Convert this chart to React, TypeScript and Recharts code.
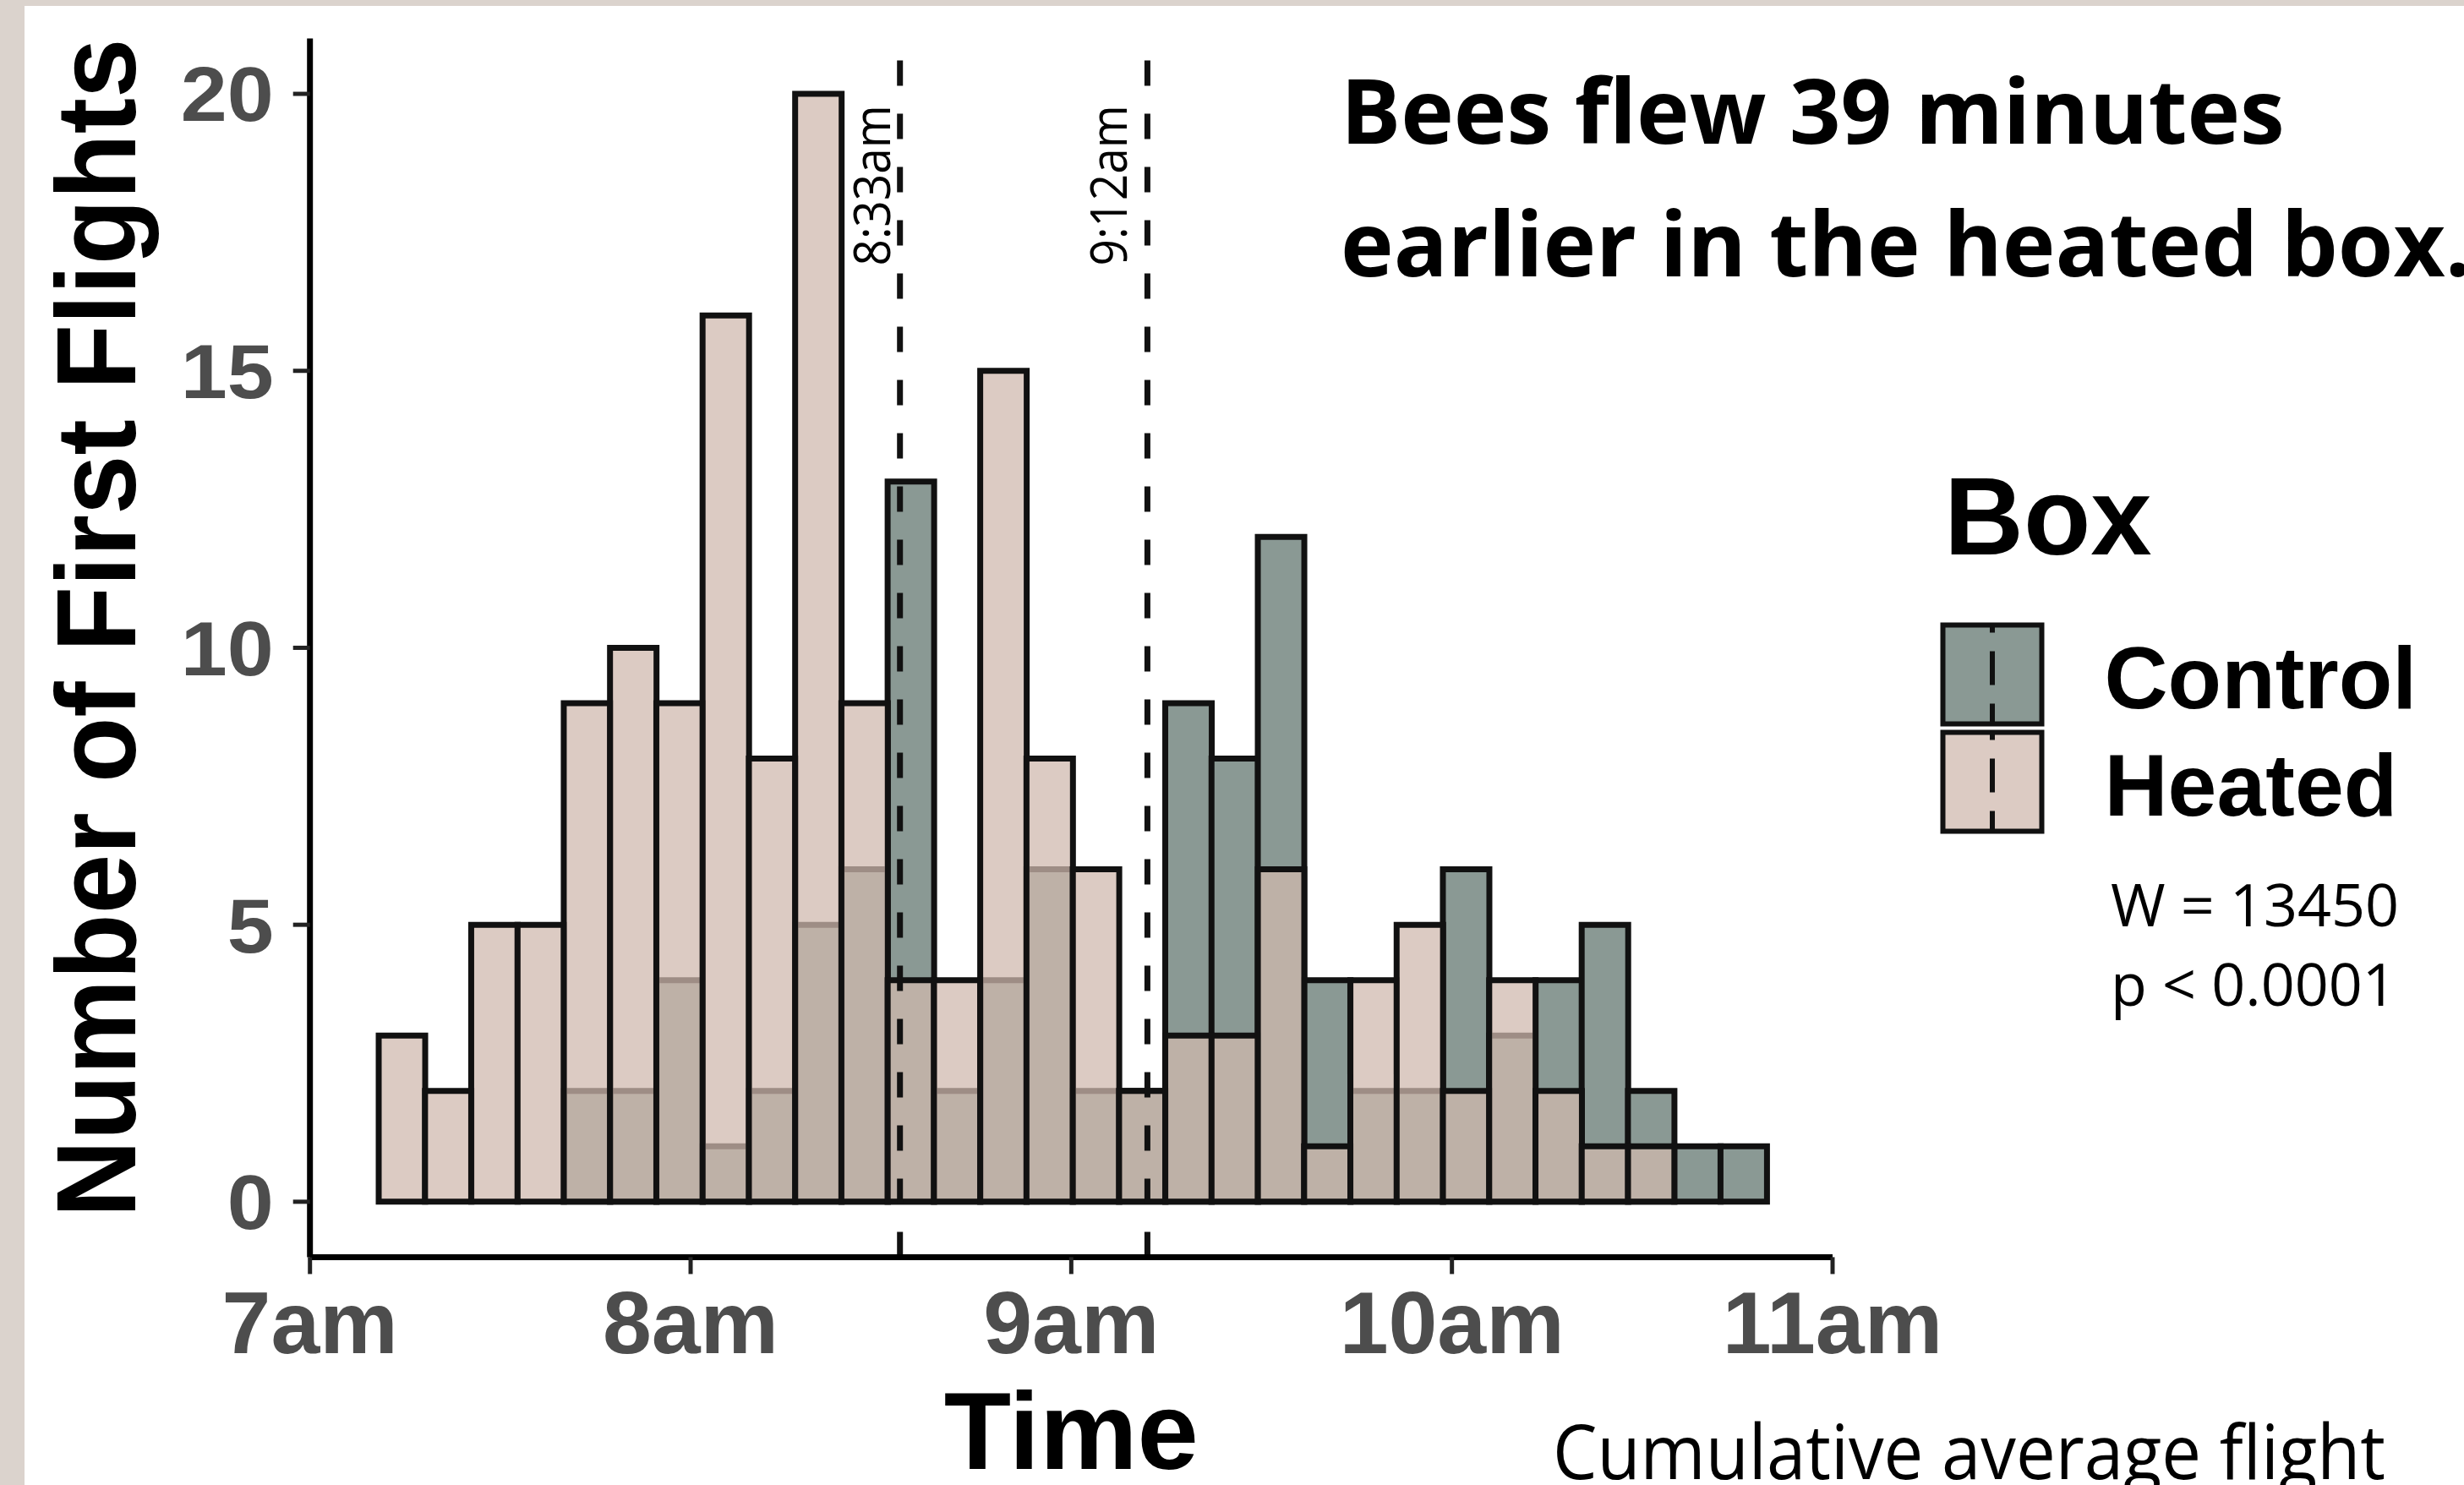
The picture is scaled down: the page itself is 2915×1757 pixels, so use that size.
import React from 'react';
import { ComposedChart, Bar, XAxis, YAxis, ReferenceLine, Legend } from 'recharts';

// ---- data (histogram bins, minutes after 7am) ----
const binCenters = [
  14.48, 21.77, 29.06, 36.36, 43.65, 50.94, 58.24, 65.53, 72.82, 80.12,
  87.41, 94.7, 101.99, 109.29, 116.58, 123.88, 131.17, 138.46, 145.75, 153.05,
  160.34, 167.63, 174.93, 182.22, 189.51, 196.81, 204.1, 211.39, 218.68, 225.98,
];
const heatedCounts = [3, 2, 5, 5, 9, 10, 9, 16, 8, 20, 9, 4, 4, 15, 8, 6, 2, 3, 3, 6, 1, 4, 5, 2, 4, 2, 1, 1, 0, 0];
const controlCounts = [0, 0, 0, 0, 2, 2, 4, 1, 2, 5, 6, 13, 2, 4, 6, 2, 2, 9, 8, 12, 4, 2, 2, 6, 3, 4, 5, 2, 1, 1];
const xTicks = [0, 60, 120, 180, 240];
const xTickLabels = ['7am', '8am', '9am', '10am', '11am'];
const yTicks = [0, 5, 10, 15, 20];
const meanTimes = [93, 132];
const meanLabels = ['8:33am', '9:12am'];
const legendOrder = ['Control', 'Heated'];

const data = binCenters.map((t, i) => ({ t, Heated: heatedCounts[i], Control: controlCounts[i] }));

// ---- styles ----
const W = 2915;
const H = 1757;
const ARIAL = '"Liberation Sans", Arial, sans-serif';
const OPEN = '"Open Sans", sans-serif';
const CONTROL_FILL = '#8a9994';
const HEATED_FILL = '#d0b9ae';
const HEATED_OPACITY = 0.74;
const OUTLINE = '#111111';
const BAR_STROKE = 7;
const seriesStyle: Record<string, { fill: string; opacity: number }> = {
  Control: { fill: CONTROL_FILL, opacity: 1 },
  Heated: { fill: HEATED_FILL, opacity: HEATED_OPACITY },
};
const meanLabelGap: Record<string, number> = { '8:33am': 12, '9:12am': 24 };

const YTick = (props: any) => {
  const { x, y, payload } = props;
  const s = String(payload.value);
  return (
    <text
      x={x}
      y={y}
      dy="0.36em"
      textAnchor="end"
      fontFamily={ARIAL}
      fontWeight="bold"
      fontSize={90}
      textLength={s.length * 55}
      lengthAdjust="spacingAndGlyphs"
      fill="#4d4d4d"
    >
      {s}
    </text>
  );
};

const XTick = (props: any) => {
  const { x, y, payload } = props;
  return (
    <text x={x} y={y} dy="0.71em" textAnchor="middle" fontFamily={ARIAL} fontWeight="bold" fontSize={104} fill="#4d4d4d">
      {xTickLabels[xTicks.indexOf(payload.value)]}
    </text>
  );
};

const MeanLabel = (props: any) => {
  const { viewBox, value } = props;
  const bx = viewBox.x - (meanLabelGap[value] ?? 14);
  const by = viewBox.y + 269;
  return (
    <text
      transform={`translate(${bx},${by}) rotate(-90)`}
      fontFamily={OPEN}
      fontSize={60}
      textLength={190}
      lengthAdjust="spacingAndGlyphs"
      fill="#000"
    >
      {value}
    </text>
  );
};

const YTitle = () => (
  <text
    transform="translate(160,743) rotate(-90)"
    textAnchor="middle"
    fontFamily={ARIAL}
    fontWeight="bold"
    fontSize={133}
    textLength={1395}
    lengthAdjust="spacingAndGlyphs"
    fill="#000"
  >
    Number of First Flights
  </text>
);

const XTitle = (props: any) => {
  const { viewBox } = props;
  const cx = viewBox.x + viewBox.width / 2;
  return (
    <text x={cx} y={1738} textAnchor="middle" fontFamily={ARIAL} fontWeight="bold" fontSize={130} fill="#000">
      Time
    </text>
  );
};

const LegendContent = (props: any) => {
  const payload: any[] = props.payload || [];
  const items = legendOrder
    .map((name) => payload.find((p) => p.value === name || p.dataKey === name))
    .filter(Boolean);
  return (
    <svg width={620} height={470} style={{ display: 'block' }}>
      <text x={10} y={116} fontFamily={ARIAL} fontWeight="bold" fontSize={130} fill="#000">
        Box
      </text>
      {items.map((it: any, i: number) => {
        const name = it.value;
        const st = seriesStyle[name];
        return (
          <g key={name} transform={`translate(8.5,${199.5 + i * 127})`}>
            <rect x={0} y={0} width={117} height={117} fill={st.fill} fillOpacity={st.opacity} stroke={OUTLINE} strokeWidth={6} />
            <line x1={58.5} x2={58.5} y1={0} y2={117} stroke={OUTLINE} strokeWidth={6} strokeDasharray="40 22" strokeDashoffset={31} />
            <text x={191} y={98.5} fontFamily={ARIAL} fontWeight="bold" fontSize={104} fill="#000">
              {name}
            </text>
          </g>
        );
      })}
    </svg>
  );
};

export default function App() {
  return (
    <div style={{ position: 'absolute', left: 0, top: 0, width: W, height: H, background: '#dbd3cd', overflow: 'hidden' }}>
      <div style={{ position: 'absolute', left: 29, top: 7, width: W - 29, height: H - 7, background: '#ffffff' }} />
      <div style={{ position: 'absolute', left: 0, top: 0 }}>
        <ComposedChart
          width={W}
          height={H}
          data={data}
          margin={{ top: 45.5, right: 747, bottom: 69.6, left: 66.7 }}
          barCategoryGap={0}
          barGap={0}
        >
          <XAxis
            xAxisId="heat"
            dataKey="t"
            type="number"
            domain={[0, 240]}
            ticks={xTicks}
            allowDataOverflow
            height={200}
            tickSize={20}
            tickMargin={20}
            axisLine={{ stroke: '#000', strokeWidth: 7 }}
            tickLine={{ stroke: '#222', strokeWidth: 5 }}
            tick={<XTick />}
            interval={0}
            label={{ content: (p: any) => <XTitle {...p} /> }}
          />
          <XAxis xAxisId="ctrl" dataKey="t" type="number" domain={[0, 240]} allowDataOverflow hide height={0} />
          <YAxis
            type="number"
            domain={[-1, 21]}
            ticks={yTicks}
            allowDataOverflow
            width={300}
            tickSize={20}
            tickMargin={23}
            axisLine={{ stroke: '#000', strokeWidth: 7 }}
            tickLine={{ stroke: '#222', strokeWidth: 5 }}
            tick={<YTick />}
            interval={0}
            label={{ content: () => <YTitle /> }}
          />
          <Bar
            xAxisId="ctrl"
            dataKey="Control"
            name="Control"
            fill={CONTROL_FILL}
            stroke={OUTLINE}
            strokeWidth={BAR_STROKE}
            isAnimationActive={false}
          />
          <Bar
            xAxisId="heat"
            dataKey="Heated"
            name="Heated"
            fill={HEATED_FILL}
            fillOpacity={HEATED_OPACITY}
            stroke={OUTLINE}
            strokeWidth={BAR_STROKE}
            isAnimationActive={false}
          />
          {meanTimes.map((t, i) => (
            <ReferenceLine
              key={t}
              xAxisId="heat"
              x={t}
              stroke={OUTLINE}
              strokeWidth={7}
              strokeDasharray="30 33"
              label={{ value: meanLabels[i], content: (p: any) => <MeanLabel {...p} value={meanLabels[i]} /> }}
            />
          ))}
          <Legend
            layout="vertical"
            align="center"
            verticalAlign="middle"
            content={<LegendContent />}
            wrapperStyle={{ position: 'absolute', left: 2290, top: 540, width: 620, height: 470 }}
          />
        </ComposedChart>
      </div>
      <svg width={W} height={H} style={{ position: 'absolute', left: 0, top: 0, pointerEvents: 'none' }}>
        <text x={1586} y={170} fontFamily={OPEN} fontWeight={700} fontSize={106} fill="#000">
          Bees flew 39 minutes
        </text>
        <text x={1586} y={327} fontFamily={OPEN} fontWeight={700} fontSize={106} fill="#000">
          earlier in the heated box.
        </text>
        <text x={2497} y={1096} fontFamily={OPEN} fontSize={70} fill="#000">
          W = 13450
        </text>
        <text x={2497} y={1190} fontFamily={OPEN} fontSize={70} fill="#000">
          {'p < 0.0001'}
        </text>
        <text x={1837} y={1750} fontFamily={OPEN} fontSize={90} textLength={985} lengthAdjust="spacingAndGlyphs" fill="#000">
          Cumulative average flight
        </text>
      </svg>
    </div>
  );
}
